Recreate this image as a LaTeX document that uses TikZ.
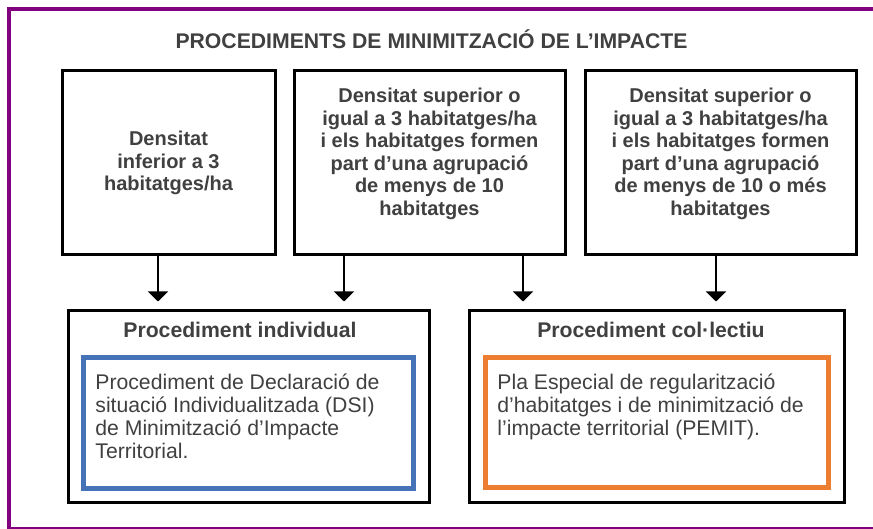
\documentclass[tikz,border=0pt]{standalone}
\usepackage{fontspec}
\setmainfont{Liberation Sans}
\usetikzlibrary{arrows.meta}
\definecolor{framepurple}{RGB}{128,0,128}
\definecolor{txtgrey}{RGB}{64,64,64}
\definecolor{dsiblue}{RGB}{70,114,184}
\definecolor{pemitorange}{RGB}{237,125,49}
\begin{document}
\begin{tikzpicture}[x=0.5pt,y=-0.5pt,
  case/.style={draw,line width=1.5pt,inner sep=0pt,minimum height=92pt,align=center,text=txtgrey,font=\bfseries\fontsize{10}{11.3}\selectfont},
  proc/.style={draw,line width=1.5pt,inner sep=0pt,minimum height=95.5pt},
  inner/.style={draw,line width=2.5pt,inner sep=0pt,minimum height=65pt},
  head/.style={text=txtgrey,font=\bfseries\fontsize{10.6}{12}\selectfont},
  body/.style={anchor=north west,inner sep=0pt,align=left,text=txtgrey,font=\fontsize{10.6}{11.5}\selectfont},
  arr/.style={-{Triangle[width=10pt,length=5pt]},line width=1pt,shorten >=4pt}]
  \path[use as bounding box,clip] (0,0) rectangle (873,529);
  \draw[framepurple,line width=2pt] (9,9) rectangle (900,529);

  \node[head] (title) at (431.5,39) {PROCEDIMENTS DE MINIMITZACIÓ DE L’IMPACTE};

  \node[case,minimum width=106.5pt] (b1) at (168.5,163) {Densitat\\inferior a 3\\habitatges/ha};
  \node[case,minimum width=135.5pt] (b2) at (429.5,163) {Densitat superior o\\igual a 3 habitatges/ha\\i els habitatges formen\\part d’una agrupació\\de menys de 10\\habitatges\\[0pt]\mbox{}};
  \node[case,minimum width=135.5pt] (b3) at (720.5,163) {Densitat superior o\\igual a 3 habitatges/ha\\i els habitatges formen\\part d’una agrupació\\de menys de 10 o més\\habitatges\\[0pt]\mbox{}};

  \node[proc,minimum width=180.5pt] (p1) at (248.5,406.5) {};
  \node[proc,minimum width=187.5pt] (p2) at (656.5,406.5) {};
  \node[head] (l1) at (240,330) {Procediment individual};
  \node[head] (l2) at (651,330) {Procediment col·lectiu};

  \node[inner,draw=dsiblue,minimum width=165pt] (d1) at (248,423) {};
  \node[inner,draw=pemitorange,minimum width=171.5pt] (d2) at (656.5,422.5) {};
  \node[body] (t1) at (95,373) {Procediment de Declaració de\\situació Individualitzada (DSI)\\de Minimització d’Impacte\\Territorial.};
  \node[body] (t2) at (497,373) {Pla Especial de regularització\\d’habitatges i de minimització de\\l’impacte territorial (PEMIT).};

  \draw[arr] ([xshift=-5.25pt]b1.south) -- ([xshift=-5.25pt]b1.south |- p1.north);
  \draw[arr] ([xshift=-42.75pt]b2.south) -- ([xshift=-42.75pt]b2.south |- p1.north);
  \draw[arr] ([xshift=46.75pt]b2.south) -- ([xshift=46.75pt]b2.south |- p2.north);
  \draw[arr] ([xshift=-2.25pt]b3.south) -- ([xshift=-2.25pt]b3.south |- p2.north);
\end{tikzpicture}
\end{document}
